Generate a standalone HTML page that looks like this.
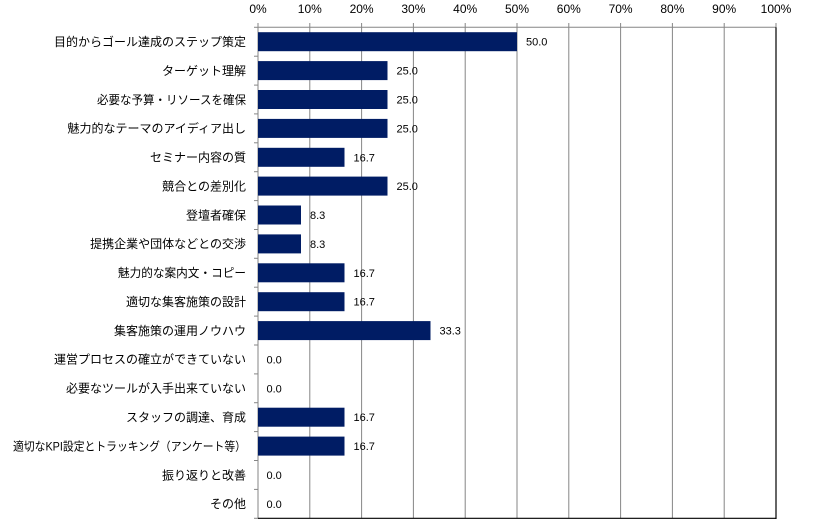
<!DOCTYPE html>
<html>
<head>
<meta charset="utf-8">
<style>
html,body{margin:0;padding:0;background:#fff;}
svg{display:block;}
.cat{font-family:"Liberation Sans","Noto Sans CJK JP",sans-serif;font-size:12px;fill:#000;}
.val{font-family:"Liberation Sans","Noto Sans CJK JP",sans-serif;font-size:11px;fill:#000;}
.ax{font-family:"Liberation Sans",sans-serif;font-size:12px;fill:#000;}
</style>
</head>
<body>
<svg width="817" height="527" viewBox="0 0 817 527" xmlns="http://www.w3.org/2000/svg">
<rect width="817" height="527" fill="#fff"/>
<!-- grid lines -->
<g stroke="#868686" stroke-width="1">
<line x1="309.8" y1="23" x2="309.8" y2="518.3"/>
<line x1="361.6" y1="23" x2="361.6" y2="518.3"/>
<line x1="413.4" y1="23" x2="413.4" y2="518.3"/>
<line x1="465.2" y1="23" x2="465.2" y2="518.3"/>
<line x1="517" y1="23" x2="517" y2="518.3"/>
<line x1="568.8" y1="23" x2="568.8" y2="518.3"/>
<line x1="620.6" y1="23" x2="620.6" y2="518.3"/>
<line x1="672.4" y1="23" x2="672.4" y2="518.3"/>
<line x1="724.2" y1="23" x2="724.2" y2="518.3"/>
<line x1="776" y1="23" x2="776" y2="27.3"/>
<line x1="258" y1="23" x2="258" y2="518.3"/>
<line x1="258" y1="27.3" x2="776" y2="27.3"/>
</g>
<!-- left ticks -->
<g stroke="#868686" stroke-width="1">
<line x1="254" y1="27.3" x2="258" y2="27.3"/>
<line x1="254" y1="56.2" x2="258" y2="56.2"/>
<line x1="254" y1="85.1" x2="258" y2="85.1"/>
<line x1="254" y1="113.9" x2="258" y2="113.9"/>
<line x1="254" y1="142.8" x2="258" y2="142.8"/>
<line x1="254" y1="171.7" x2="258" y2="171.7"/>
<line x1="254" y1="200.6" x2="258" y2="200.6"/>
<line x1="254" y1="229.5" x2="258" y2="229.5"/>
<line x1="254" y1="258.3" x2="258" y2="258.3"/>
<line x1="254" y1="287.2" x2="258" y2="287.2"/>
<line x1="254" y1="316.1" x2="258" y2="316.1"/>
<line x1="254" y1="345.0" x2="258" y2="345.0"/>
<line x1="254" y1="373.9" x2="258" y2="373.9"/>
<line x1="254" y1="402.7" x2="258" y2="402.7"/>
<line x1="254" y1="431.6" x2="258" y2="431.6"/>
<line x1="254" y1="460.5" x2="258" y2="460.5"/>
<line x1="254" y1="489.4" x2="258" y2="489.4"/>
<line x1="254" y1="518.3" x2="258" y2="518.3"/>
</g>
<!-- border right & bottom -->
<line x1="776" y1="27.3" x2="776" y2="519" stroke="#000" stroke-width="1.2"/>
<line x1="258" y1="518.3" x2="776.5" y2="518.3" stroke="#000" stroke-width="1.2"/>
<!-- axis labels -->
<g class="ax" text-anchor="middle">
<text x="258" y="13">0%</text>
<text x="309.8" y="13">10%</text>
<text x="361.6" y="13">20%</text>
<text x="413.4" y="13">30%</text>
<text x="465.2" y="13">40%</text>
<text x="517" y="13">50%</text>
<text x="568.8" y="13">60%</text>
<text x="620.6" y="13">70%</text>
<text x="672.4" y="13">80%</text>
<text x="724.2" y="13">90%</text>
<text x="776" y="13">100%</text>
</g>
<!-- bars -->
<g fill="#001c64">
<rect x="258" y="32.2" width="259" height="19"/>
<rect x="258" y="61.1" width="129.5" height="19"/>
<rect x="258" y="90.0" width="129.5" height="19"/>
<rect x="258" y="118.9" width="129.5" height="19"/>
<rect x="258" y="147.8" width="86.5" height="19"/>
<rect x="258" y="176.6" width="129.5" height="19"/>
<rect x="258" y="205.5" width="43" height="19"/>
<rect x="258" y="234.4" width="43" height="19"/>
<rect x="258" y="263.3" width="86.5" height="19"/>
<rect x="258" y="292.2" width="86.5" height="19"/>
<rect x="258" y="321.1" width="172.5" height="19"/>
<rect x="258" y="407.7" width="86.5" height="19"/>
<rect x="258" y="436.6" width="86.5" height="19"/>
</g>
<!-- value labels -->
<g class="val">
<text x="526" y="45.7">50.0</text>
<text x="396.5" y="74.6">25.0</text>
<text x="396.5" y="103.5">25.0</text>
<text x="396.5" y="132.4">25.0</text>
<text x="353.5" y="161.3">16.7</text>
<text x="396.5" y="190.1">25.0</text>
<text x="310" y="219.0">8.3</text>
<text x="310" y="247.9">8.3</text>
<text x="353.5" y="276.8">16.7</text>
<text x="353.5" y="305.7">16.7</text>
<text x="439.5" y="334.6">33.3</text>
<text x="266.5" y="363.4">0.0</text>
<text x="266.5" y="392.3">0.0</text>
<text x="353.5" y="421.2">16.7</text>
<text x="353.5" y="450.1">16.7</text>
<text x="266.5" y="479.0">0.0</text>
<text x="266.5" y="507.9">0.0</text>
</g>
<!-- category labels -->
<g class="cat" text-anchor="end">
<text x="246" y="46">目的からゴール達成のステップ策定</text>
<text x="246" y="74.9">ターゲット理解</text>
<text x="246" y="103.8" textLength="149" lengthAdjust="spacingAndGlyphs">必要な予算・リソースを確保</text>
<text x="246" y="132.7">魅力的なテーマのアイディア出し</text>
<text x="246" y="161.6">セミナー内容の質</text>
<text x="246" y="190.4">競合との差別化</text>
<text x="246" y="219.3">登壇者確保</text>
<text x="246" y="248.2">提携企業や団体などとの交渉</text>
<text x="246" y="277.1" textLength="128" lengthAdjust="spacingAndGlyphs">魅力的な案内文・コピー</text>
<text x="246" y="306.0">適切な集客施策の設計</text>
<text x="246" y="334.9">集客施策の運用ノウハウ</text>
<text x="246" y="363.7">運営プロセスの確立ができていない</text>
<text x="246" y="392.6">必要なツールが入手出来ていない</text>
<text x="246" y="421.5">スタッフの調達、育成</text>
<text x="246" y="450.4" textLength="233" lengthAdjust="spacingAndGlyphs">適切なKPI設定とトラッキング（アンケート等）</text>
<text x="246" y="479.3">振り返りと改善</text>
<text x="246" y="508.2">その他</text>
</g>
</svg>
</body>
</html>
